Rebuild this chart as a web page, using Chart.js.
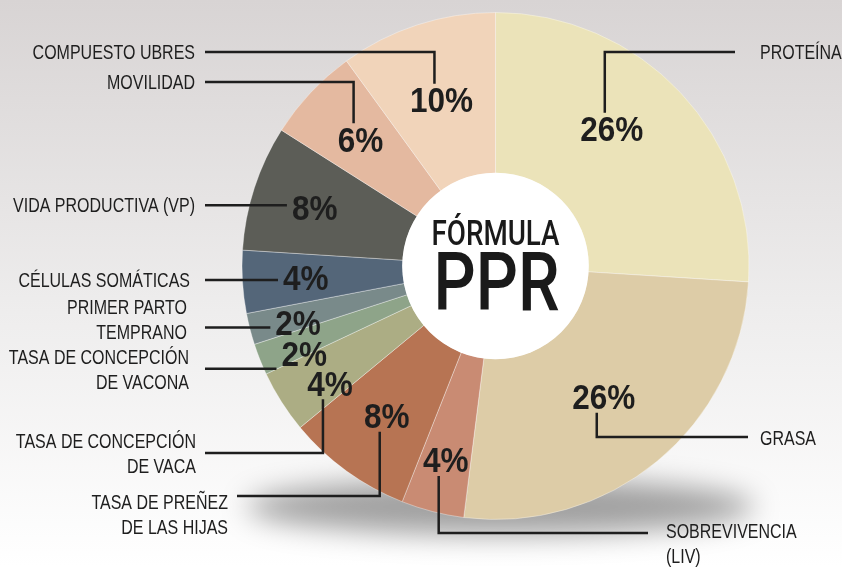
<!DOCTYPE html>
<html>
<head>
<meta charset="utf-8">
<script src="https://cdn.jsdelivr.net/npm/chart.js@4.4.0/dist/chart.umd.min.js"></script>
<style>
  html, body { margin: 0; padding: 0; background: #fff; }
  #wrap { width: 842px; height: 567px; }
</style>
</head>
<body>
<div id="wrap"><canvas id="ppr" width="842" height="567"></canvas></div>
<script>
// PPR formula weights (%)
const categories = [
    "PROTEÍNA",
    "GRASA",
    ["SOBREVIVENCIA", "(LIV)"],
    ["TASA DE PREÑEZ", "DE LAS HIJAS"],
    ["TASA DE CONCEPCIÓN", "DE VACA"],
    ["TASA DE CONCEPCIÓN", "DE VACONA"],
    ["PRIMER PARTO", "TEMPRANO"],
    "CÉLULAS SOMÁTICAS",
    "VIDA PRODUCTIVA (VP)",
    "MOVILIDAD",
    "COMPUESTO UBRES"
];
const shares = [26, 26, 4, 8, 4, 2, 2, 4, 8, 6, 10];
const centerTitle = ["FÓRMULA", "PPR"];

const sliceColors = [
    "#ebe3b9", "#ddcca7", "#c98b73", "#b77453", "#acad84", "#8ea489",
    "#798a8a", "#546679", "#5c5d57", "#e4b9a0", "#f1d4ba"
];

// where each % label sits inside its slice (t = fraction of the slice angle, r = fraction of radius)
// and how its leader line runs out to the category name
const callouts = [
    { t: .43, r: .71, kind: "up",   y: 52,  end: 735, tx: 760, align: "left",  dy: 0 },
    { t: .50, r: .67, kind: "down", y: 437, end: 748, tx: 760, align: "left",  dy: 1 },
    { t: .50, r: .79, kind: "down", y: 533, end: 648, tx: 666, align: "left",  dy: -2 },
    { t: .50, r: .73, kind: "down", y: 496, end: 237, tx: 228, align: "right", dy: 6 },
    { t: .30, r: .80, kind: "down", y: 453, end: 205, tx: 196, align: "right", dy: -12 },
    { t: .08, r: .83, kind: "h", off: 15,   end: 205, tx: 189, align: "right", dy: -12 },
    { t: .28, r: .81, kind: "h", off: 5,    end: 205, tx: 187, align: "right", dy: -21 },
    { t: .50, r: .75, kind: "h", off: 2,    end: 205, tx: 190, align: "right", dy: 0 },
    { t: .50, r: .75, kind: "h", off: -2,   end: 205, tx: 195, align: "right", dy: 0 },
    { t: .50, r: .73, kind: "up",   y: 82,  end: 205, tx: 195, align: "right", dy: 0 },
    { t: .50, r: .69, kind: "up",   y: 52,  end: 205, tx: 195, align: "right", dy: 0 }
];

const ink = "#1e1e1e";
const narrow = "'Liberation Sans', Arial, sans-serif";

function condText(ctx, str, x, y, align, sx) {
    ctx.save();
    ctx.translate(x, y);
    ctx.scale(sx, 1);
    ctx.textAlign = align;
    ctx.fillText(str, 0, 0);
    ctx.restore();
}

// squeeze a string so it is exactly `width` px wide
function fitText(ctx, str, x, y, width) {
    const sx = width / ctx.measureText(str).width;
    condText(ctx, str, x, y, "center", sx);
}

const backdrop = {
    id: "backdrop",
    beforeDraw(chart) {
        const ctx = chart.ctx;
        const g = ctx.createLinearGradient(0, 0, 0, chart.height);
        g.addColorStop(0, "#d8d4d4");
        g.addColorStop(0.55, "#eeeded");
        g.addColorStop(1, "#ffffff");
        ctx.save();
        ctx.fillStyle = g;
        ctx.fillRect(0, 0, chart.width, chart.height);
        ctx.restore();
    },
    beforeDatasetsDraw(chart) {
        const arc = chart.getDatasetMeta(0).data[0];
        const ctx = chart.ctx;
        ctx.save();
        ctx.filter = "blur(14px)";
        ctx.fillStyle = "rgba(0,0,0,0.36)";
        ctx.beginPath();
        ctx.ellipse(arc.x + 5, arc.y + arc.outerRadius * 0.95, arc.outerRadius * 1.0, 28, 0, 0, Math.PI * 2);
        ctx.fill();
        ctx.restore();
    }
};

const labelsPlugin = {
    id: "pprLabels",
    afterDatasetsDraw(chart) {
        const ctx = chart.ctx;
        const arcs = chart.getDatasetMeta(0).data;
        const cx = arcs[0].x, cy = arcs[0].y, hub = arcs[0].innerRadius;

        // white hub with the title
        ctx.save();
        ctx.fillStyle = "#ffffff";
        ctx.beginPath();
        ctx.arc(cx, cy, hub + 0.5, 0, Math.PI * 2);
        ctx.fill();
        ctx.fillStyle = "#1a1a1a";
        ctx.font = "500 35px Roboto, " + narrow;
        fitText(ctx, centerTitle[0], cx, cy - 21, hub * 1.38);
        ctx.font = "500 81px Roboto, " + narrow;
        fitText(ctx, centerTitle[1], cx + 1, cy + 44, hub * 1.36);
        ctx.restore();

        ctx.save();
        ctx.strokeStyle = ink;
        ctx.fillStyle = ink;
        ctx.lineWidth = 2.5;
        arcs.forEach((arc, i) => {
            const c = callouts[i];
            const a = arc.startAngle + (arc.endAngle - arc.startAngle) * c.t;
            const px = arc.x + Math.cos(a) * arc.outerRadius * c.r;
            const py = arc.y + Math.sin(a) * arc.outerRadius * c.r;
            const txt = shares[i] + "%";

            ctx.font = "bold 35px " + narrow;
            const w = ctx.measureText(txt).width * 0.9;
            condText(ctx, txt, px, py + 12.5, "center", 0.9);

            // leader line
            let lineY;
            ctx.beginPath();
            if (c.kind === "h") {
                lineY = py + c.off;
                ctx.moveTo(px - w / 2 - 5, lineY);
                ctx.lineTo(c.end, lineY);
            } else {
                lineY = c.y;
                const vx = px - 7;
                const vy = c.kind === "up" ? py - 16 : py + 16;
                ctx.moveTo(vx, vy);
                ctx.lineTo(vx, lineY);
                ctx.lineTo(c.end, lineY);
            }
            ctx.stroke();

            // category name
            ctx.font = "20px " + narrow;
            const lines = Array.isArray(categories[i]) ? categories[i] : [categories[i]];
            lines.forEach((ln, k) => {
                const ty = lineY + c.dy + k * 25;
                condText(ctx, ln, c.tx, ty + 7.2, c.align, 0.8);
            });
        });
        ctx.restore();
    }
};

new Chart(document.getElementById("ppr"), {
    type: "doughnut",
    data: {
        labels: categories,
        datasets: [{
            data: shares,
            backgroundColor: sliceColors,
            borderColor: "rgba(255,255,255,0.35)",
            borderWidth: 1
        }]
    },
    options: {
        responsive: false,
        animation: false,
        cutout: "36.6%",
        rotation: 0,
        layout: { padding: { top: 12, bottom: 47, left: 241, right: 92 } },
        plugins: {
            legend: { display: false },
            tooltip: { enabled: false }
        },
        events: []
    },
    plugins: [backdrop, labelsPlugin]
});
</script>
</body>
</html>
